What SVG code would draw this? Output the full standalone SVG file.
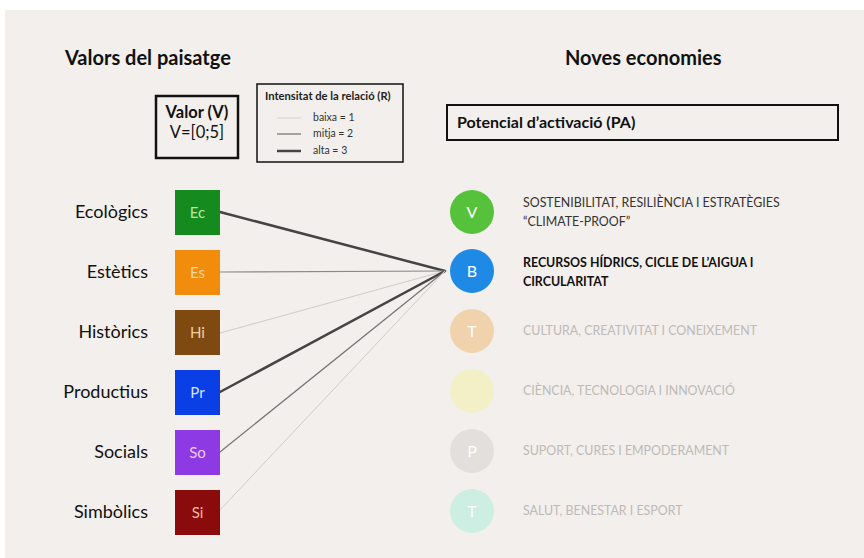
<svg xmlns="http://www.w3.org/2000/svg" width="864" height="558" viewBox="0 0 864 558">
<style>
.hd{font-family:Lato,"Open Sans",sans-serif;font-weight:700;font-size:20px;fill:#111}
.lbl{font-family:Lato,"Open Sans",sans-serif;font-size:18px;fill:#111;text-anchor:end}
.sq{font-family:Lato,"Open Sans",sans-serif;font-size:15px;text-anchor:middle}
.ci{font-family:Lato,"Open Sans",sans-serif;font-size:16px;fill:#fff;text-anchor:middle}
.tx{font-family:Lato,"Open Sans",sans-serif;font-size:12.4px}
.lg{font-family:Lato,"Open Sans",sans-serif;font-size:10.5px;fill:#333}
.box{fill:none;stroke:#111}
</style>
<rect x="0" y="0" width="864" height="558" fill="#ffffff"/>
<rect x="5" y="10" width="859" height="548" fill="#f3efec"/>
<text class="hd" x="65" y="65">Valors del paisatge</text>
<text class="hd" x="565" y="65">Noves economies</text>
<g id="valor-box">
<rect class="box" x="156" y="96" width="82" height="62" stroke-width="2.5"/>
<text x="197" y="118" font-family="Lato,'Open Sans',sans-serif" font-size="16.5" font-weight="700" text-anchor="middle" fill="#111">Valor (V)</text>
<text x="197" y="138" font-family="Lato,'Open Sans',sans-serif" font-size="16.5" text-anchor="middle" fill="#111">V=[0;5]</text>
</g>
<g id="legend">
<rect class="box" x="257" y="84" width="146" height="78" stroke-width="1.5"/>
<text x="265" y="100" font-family="Lato,'Open Sans',sans-serif" font-size="11.2" font-weight="700" fill="#222">Intensitat de la relació (R)</text>
<line x1="277" y1="118" x2="301" y2="118" stroke="#d4d0cc" stroke-width="1"/>
<line x1="277" y1="134" x2="301" y2="134" stroke="#8a8a8a" stroke-width="1.5"/>
<line x1="277" y1="151" x2="301" y2="151" stroke="#444" stroke-width="2.5"/>
<text class="lg" x="313" y="121">baixa = 1</text>
<text class="lg" x="313" y="137">mitja = 2</text>
<text class="lg" x="313" y="154">alta = 3</text>
</g>
<g id="pa-box">
<rect class="box" x="447" y="105" width="391" height="35" stroke-width="2"/>
<text x="457" y="128" font-family="Lato,'Open Sans',sans-serif" font-size="16" font-weight="700" fill="#111">Potencial d’activació (PA)</text>
</g>
<g id="connectors" fill="none" stroke-linecap="round">
<line x1="220" y1="212" x2="445" y2="271" stroke="#444" stroke-width="2.5"/>
<line x1="220" y1="272" x2="445" y2="271" stroke="#8a8a8a" stroke-width="1.2"/>
<line x1="220" y1="333" x2="445" y2="271" stroke="#cfcbc7" stroke-width="1"/>
<line x1="220" y1="392" x2="445" y2="271" stroke="#444" stroke-width="2.5"/>
<line x1="220" y1="452" x2="445" y2="271" stroke="#777" stroke-width="1.3"/>
<line x1="220" y1="510" x2="445" y2="271" stroke="#cfcbc7" stroke-width="1"/>
</g>
<g id="ec"><text class="lbl" x="148" y="218">Ecològics</text><rect x="175" y="190" width="45" height="45" fill="#148a1f"/><text class="sq" x="197.5" y="218" fill="#b8e8a8">Ec</text></g>
<g id="es"><text class="lbl" x="148" y="278">Estètics</text><rect x="175" y="250" width="45" height="45" fill="#f18c0c"/><text class="sq" x="197.5" y="278" fill="#fbd6a8">Es</text></g>
<g id="hi"><text class="lbl" x="148" y="338">Històrics</text><rect x="175" y="310" width="45" height="45" fill="#7e4a12"/><text class="sq" x="197.5" y="338" fill="#f4cfa0">Hi</text></g>
<g id="pr"><text class="lbl" x="148" y="398">Productius</text><rect x="175" y="370" width="45" height="45" fill="#0b3fe6"/><text class="sq" x="197.5" y="398" fill="#d8e2ff">Pr</text></g>
<g id="so"><text class="lbl" x="148" y="458">Socials</text><rect x="175" y="430" width="45" height="45" fill="#8d3ae4"/><text class="sq" x="197.5" y="458" fill="#f2c8f4">So</text></g>
<g id="si"><text class="lbl" x="148" y="518">Simbòlics</text><rect x="175" y="490" width="45" height="45" fill="#8a0b0b"/><text class="sq" x="197.5" y="518" fill="#f5b8a8">Si</text></g>
<g id="v"><circle cx="472" cy="212" r="22" fill="#56c23c"/><text class="ci" x="472" y="218">V</text>
<text class="tx" x="523" y="207" fill="#333">SOSTENIBILITAT, RESILIÈNCIA I ESTRATÈGIES</text>
<text class="tx" x="523" y="226" fill="#333">“CLIMATE-PROOF”</text></g>
<g id="b"><circle cx="472" cy="271" r="22" fill="#1f8ae6"/><text class="ci" x="472" y="277">B</text>
<text class="tx" x="523" y="267" fill="#111" font-weight="700">RECURSOS HÍDRICS, CICLE DE L’AIGUA I</text>
<text class="tx" x="523" y="286" fill="#111" font-weight="700">CIRCULARITAT</text></g>
<g id="t1"><circle cx="472" cy="331" r="22" fill="#f0d3ad"/><text class="ci" x="472" y="337" fill="#f8ecdc">T</text>
<text class="tx" x="523" y="335" fill="#bdbab7">CULTURA, CREATIVITAT I CONEIXEMENT</text></g>
<g id="i"><circle cx="472" cy="391" r="22" fill="#f3efc6"/>
<text class="tx" x="523" y="395" fill="#bdbab7">CIÈNCIA, TECNOLOGIA I INNOVACIÓ</text></g>
<g id="p"><circle cx="472" cy="451" r="22" fill="#e2dfdc"/><text class="ci" x="472" y="457" fill="#eeebe8">P</text>
<text class="tx" x="523" y="455" fill="#bdbab7">SUPORT, CURES I EMPODERAMENT</text></g>
<g id="t2"><circle cx="472" cy="511" r="22" fill="#cdeee2"/><text class="ci" x="472" y="517" fill="#eaf8f2">T</text>
<text class="tx" x="523" y="515" fill="#bdbab7">SALUT, BENESTAR I ESPORT</text></g>
</svg>
